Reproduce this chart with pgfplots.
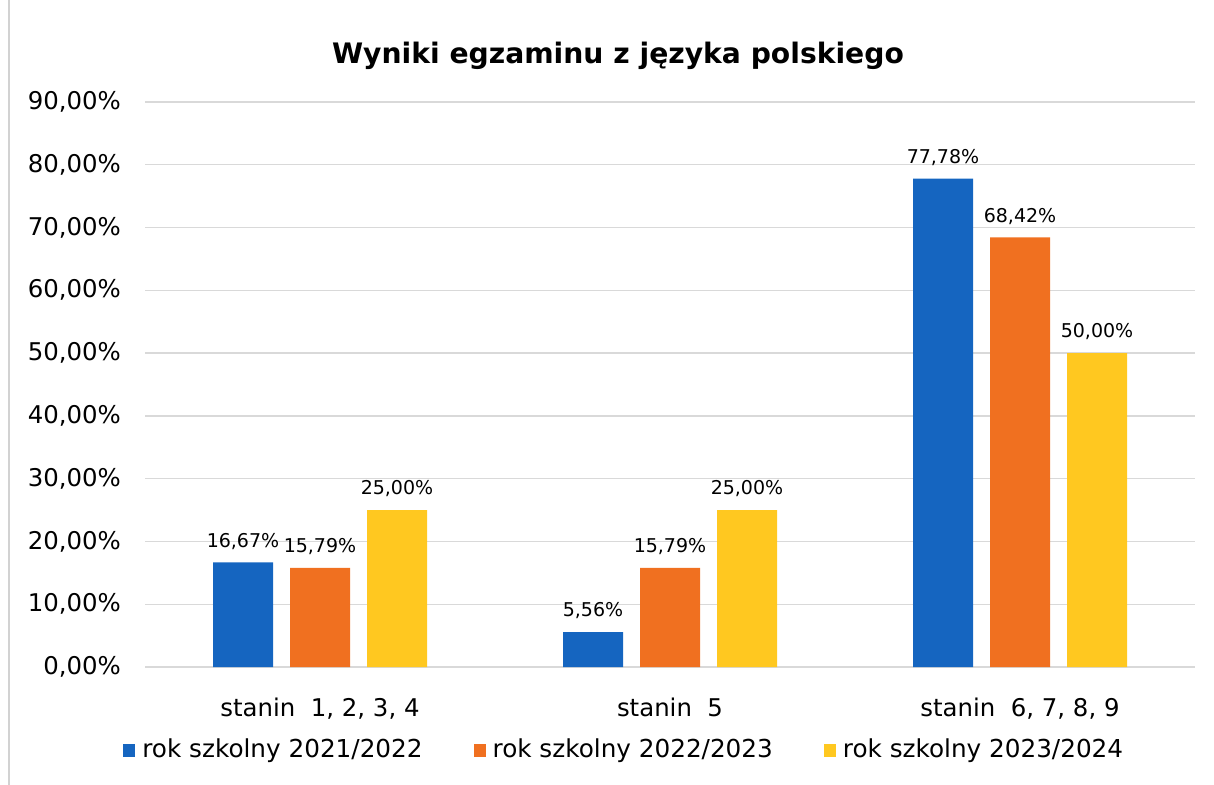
\documentclass[border=0pt]{standalone}
\usepackage{fontspec}
\setmainfont{DejaVu Sans}
\usepackage{pgfplots}
\pgfplotsset{compat=1.18}
\definecolor{c1}{RGB}{21,101,192}
\definecolor{c2}{RGB}{240,112,32}
\definecolor{c3}{RGB}{255,200,32}
\begin{document}
\begin{tikzpicture}
\useasboundingbox (0pt,0pt) rectangle (607pt,-392.5pt);
\draw[gray!35, line width=0.8pt] (4.5pt,0pt) -- (4.5pt,-392.5pt);
\node[font=\bfseries\fontsize{14.1}{17}\selectfont] at (309pt,-28pt) {Wyniki egzaminu z języka polskiego};
\begin{axis}[
  at={(72.5pt,-333.5pt)}, anchor=south west,
  scale only axis, width=525pt, height=282.5pt,
  ybar=8.5pt, bar width=30pt,
  xmin=-0.5, xmax=2.5, ymin=0, ymax=90,
  xtick={0,1,2},
  xticklabels={{stanin\ \ 1, 2, 3, 4},{stanin\ \ 5},{stanin\ \ 6, 7, 8, 9}},
  ytick={0,10,...,90},
  yticklabel={\pgfmathprintnumber[fixed,fixed zerofill,precision=2,use comma]{\tick}\%},
  /pgf/number format/assume math mode=true,
  ticklabel style={font=\fontsize{12.2}{14}\selectfont},
  yticklabel style={xshift=-8.5pt},
  xticklabel style={yshift=-7.5pt},
  ymajorgrids, grid style={gray!30, line width=0.7pt},
  axis line style={draw=none}, major tick style={draw=none},
  nodes near coords={\pgfmathprintnumber[fixed,fixed zerofill,precision=2,use comma]{\pgfplotspointmeta}\%},
  every node near coord/.append style={font=\fontsize{9.5}{11}\selectfont, black, yshift=3pt},
  legend style={at={(-0.021,-0.147)}, anchor=west, draw=none, fill=none, inner sep=0pt,
    legend columns=3, font=\fontsize{12.35}{14}\selectfont,
    /tikz/every odd column/.append style={column sep=2.5pt},
    /tikz/every even column/.append style={column sep=24.5pt},
    nodes={inner sep=1pt}},
  legend image code/.code={\fill[#1] (0pt,-3.25pt) rectangle (6pt,3.25pt);},
]
\addplot[fill=c1, draw=none] coordinates {(0,16.67) (1,5.56) (2,77.78)};
\addplot[fill=c2, draw=none] coordinates {(0,15.79) (1,15.79) (2,68.42)};
\addplot[fill=c3, draw=none] coordinates {(0,25.00) (1,25.00) (2,50.00)};
\legend{rok szkolny 2021/2022, rok szkolny 2022/2023, rok szkolny 2023/2024}
\end{axis}
\end{tikzpicture}
\end{document}
